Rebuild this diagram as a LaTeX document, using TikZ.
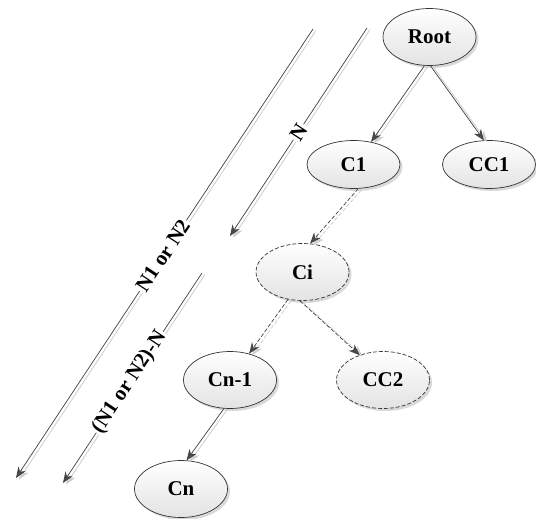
\documentclass[tikz,border=0pt]{standalone}
\usepackage{fontspec}
\setmainfont{Liberation Serif}
\usetikzlibrary{shapes.geometric,arrows.meta,shadows,calc}
\begin{document}
\begin{tikzpicture}[x=1pt,y=-1pt,
  tnode/.style={ellipse, draw=black!80, line width=0.7pt, minimum width=93pt, minimum height=57pt,
    inner sep=0pt, top color=white, bottom color=gray!22,
    drop shadow={shadow xshift=2.5pt, shadow yshift=-2.5pt, fill=gray!50, opacity=0.6},
    font=\bfseries\fontsize{21}{24}\selectfont},
  snode/.style={tnode, minimum height=48pt},
  dnode/.style={tnode, dash pattern=on 4pt off 2pt},
  conn/.style={draw=black!75, line width=0.7pt, -{Stealth[length=11pt,width=8.5pt,fill=black!70]}},
  dconn/.style={conn, dash pattern=on 4pt off 2pt},
  shd/.style={draw=gray!40, line width=0.8pt, -{Stealth[length=11pt,width=8.5pt,fill=gray!35]}},
  dshd/.style={shd, dash pattern=on 4pt off 2pt},
  lbl/.style={sloped, fill=white, inner sep=1.5pt, font=\bfseries\fontsize{21}{24}\selectfont}
]
\useasboundingbox (0,0) rectangle (536,519);

\node[tnode] (Root) at (429.5,37) {Root};
\node[snode] (C1) at (353.5,164.5) {C1};
\node[snode] (CC1) at (489,164.5) {CC1};
\node[dnode] (Ci) at (302.5,272) {Ci};
\node[tnode] (Cn1) at (230,380) {Cn-1};
\node[dnode] (CC2) at (383,380) {CC2};
\node[tnode] (Cn) at (181,489) {Cn};

\coordinate (na) at (367,28);
\coordinate (nb) at (230,236);
\coordinate (ma) at (313,29);
\coordinate (mb) at (16,478);
\coordinate (ka) at (202,273);
\coordinate (kb) at (63,483);
\coordinate (o) at (3,1.5);

% light gray shadows of the connectors
\draw[shd] ($(Root.-100)+(o)$) -- ($(C1.52)+(o)$);
\draw[shd] ($(Root.-88)+(o)$) -- ($(CC1.102)+(o)$);
\draw[dshd] ($(C1.-79)+(o)$) -- ($(Ci.75)+(o)$);
\draw[dshd] ($(Ci.-118)+(o)$) -- ($(Cn1.54)+(o)$);
\draw[dshd] ($(Ci.-95)+(o)$) -- ($(CC2.133)+(o)$);
\draw[shd] ($(Cn1.-102)+(o)$) -- ($(Cn.79)+(o)$);
\draw[shd] ($(na)+(o)$) -- ($(nb)+(o)$);
\draw[shd] ($(ma)+(o)$) -- ($(mb)+(o)$);
\draw[shd] ($(ka)+(o)$) -- ($(kb)+(o)$);

\draw[conn] (Root.-100) -- (C1.52);
\draw[conn] (Root.-88) -- (CC1.102);
\draw[dconn] (C1.-79) -- (Ci.75);
\draw[dconn] (Ci.-118) -- (Cn1.54);
\draw[dconn] (Ci.-95) -- (CC2.133);
\draw[conn] (Cn1.-102) -- (Cn.79);

\draw[conn] (na) -- node[lbl,pos=0.5] {N} (nb);
\draw[conn] (ma) -- node[lbl,pos=0.505] {N1 or N2} (mb);
\draw[conn] (ka) -- node[lbl,pos=0.52] {(N1 or N2)-N} (kb);
\end{tikzpicture}
\end{document}
